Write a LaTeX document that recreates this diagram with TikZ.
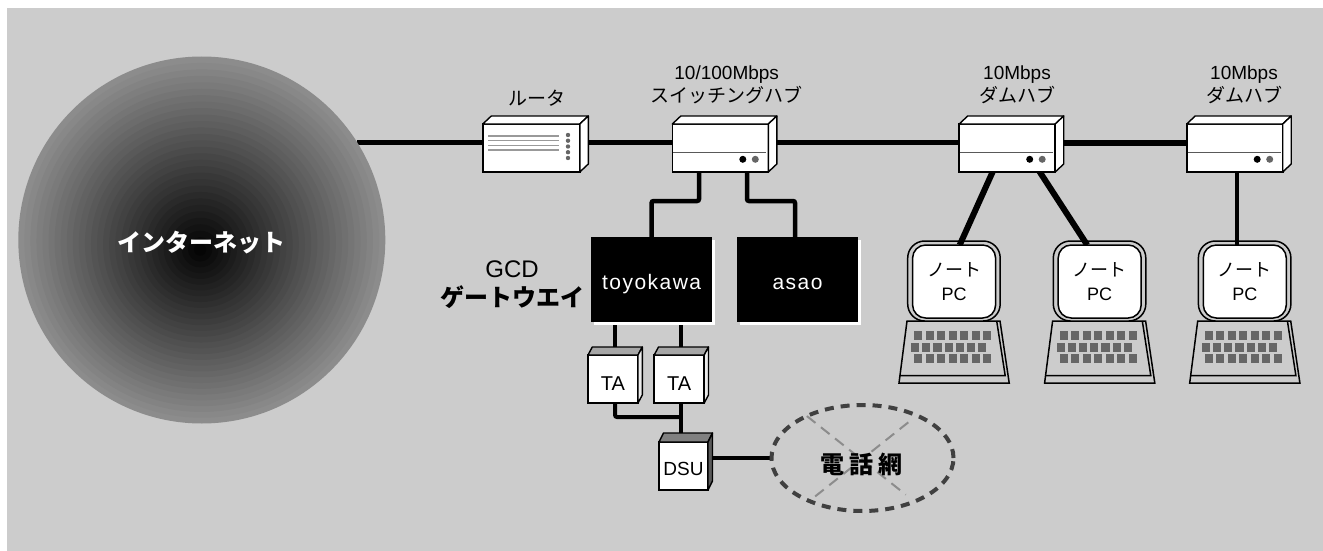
\documentclass[tikz,border=0pt]{standalone}
\usepackage{fontspec}
\setmainfont{Liberation Sans}
\newfontfamily\jpfont{Noto Sans CJK JP}
\newfontfamily\hostfont[LetterSpace=7]{Liberation Sans}
\usetikzlibrary{shapes.geometric, calc, backgrounds, shadows}
\definecolor{panelgray}{HTML}{CCCCCC}
\definecolor{keygray}{HTML}{666666}
\tikzset{
  hubfront/.style={
    draw, fill=white, line width=1.6pt, minimum width=96pt, minimum height=48pt,
    inner sep=0pt, outer sep=0pt
  },
  tafront/.style={
    hubfront, minimum width=50pt, minimum height=48pt,
    text height=22pt, text depth=0pt, font=\fontsize{20}{24}\selectfont
  },
  dsufront/.style={
    hubfront, minimum width=49pt, minimum height=48pt,
    text height=18pt, text depth=0pt, font=\fontsize{19}{23}\selectfont
  },
  hostbox/.style={
    fill=black, minimum width=121pt, minimum height=85pt, inner sep=0pt, outer sep=0pt,
    text=white, text height=24pt, text depth=3pt, font=\fontsize{21}{25}\hostfont,
    copy shadow={shadow xshift=3pt, shadow yshift=-3pt, fill=white, draw=none}
  },
  devlabel/.style={
    align=center, inner sep=0pt, font=\fontsize{19}{23}\selectfont
  },
  pcscreen/.style={
    draw, fill=white, line width=1.5pt, rounded corners=13pt, minimum width=83pt,
    minimum height=73pt, inner sep=0pt, outer sep=0pt, align=center,
    font=\fontsize{18}{24}\selectfont
  },
  netline/.style={line width=4.5pt, rounded corners=2pt},
  shell/.style={draw, line width=1.4pt, line join=round},
}
\newcommand{\jp}[1]{{\jpfont #1}}
% top and side faces of a box
\newcommand{\boxshell}[5]{
  \draw[shell, fill=#4] (#1.north west) -- ++(#2,-#3)
    -- ([shift={(#2,-#3)}]#1.north east) -- (#1.north east) -- cycle;
  \draw[shell, fill=#5] (#1.north east) -- ([shift={(#2,-#3)}]#1.north east)
    -- ([shift={(#2,-#3)}]#1.south east) -- (#1.south east) -- cycle;
}
\newcommand{\hubface}[1]{
  \boxshell{#1}{8.5}{8}{white}{white}
  \draw[line width=1pt, color=black!65] ([xshift=1pt,yshift=-4pt]#1.west) -- ([xshift=-2pt,yshift=-4pt]#1.east);
  \fill[black] ([shift={(-25.5,11.3)}]#1.east) circle (3.5pt);
  \fill[keygray] ([shift={(-13,11.3)}]#1.east) circle (3.5pt);
}
\newcommand{\notepc}[2]{
  \begin{scope}[shift={(#2,241)}]
    \begin{scope}[on background layer]
      \draw[line width=1.5pt, fill=panelgray] (-0.7,80) -- (92.3,80) -- (101.5,142) -- (-8.7,142) -- cycle;
      \draw[line width=1.5pt] (-8,134.7) -- (97.5,134.7) -- (89,80);
      \draw[line width=1.5pt, fill=panelgray, rounded corners=17pt] (0,0) rectangle (92.5,80);
    \end{scope}
    \node[pcscreen] (#1) at (46.4,40.5) {\jp{ノート}\\PC};
    \foreach \k in {0,...,6} {
      \fill[keygray] (6.3+\k*11.5,90) rectangle ++(8.2,9);
      \fill[keygray] (3.3+\k*11.2,101.5) rectangle ++(8.2,9);
      \fill[keygray] (6.3+\k*11.5,113) rectangle ++(8.2,9);
    }
  \end{scope}
}
\begin{document}
\begin{tikzpicture}[x=1pt, y=-1pt]
  \useasboundingbox (0,0) rectangle (1323,551);
  \begin{scope}[on background layer]
    \fill[panelgray] (7,8) rectangle (1323,551);
  \end{scope}

  % --- Internet ---
  \foreach \k in {30,...,1} {
    \pgfmathsetmacro\bandpct{100-55*\k/30}
    \fill[black!\bandpct!white] (200+1.8*\k/30,250-10*\k/30) circle ({183.5*\k/30*1pt});
  }
  \node[circle, minimum size=367pt, inner sep=0pt, outer sep=0pt, text=white,
    text height=26pt, text depth=3pt,
    font=\fontsize{24}{28}\jpfont\bfseries] (internet) at (201.8,240) {インターネット};
  \coordinate (trunk) at (internet.32.5);

  % --- Router and hubs ---
  \node[hubfront, minimum width=97pt] (router) at (531.3,148) {};
  \boxshell{router}{8.5}{8}{white}{white}
  \foreach \ly in {136,140.7,145.4,150} {
    \draw[line width=1.5pt, color=black!40] (488,\ly) -- (559,\ly);
  }
  \foreach \ly in {135,140.7,146.5,152.2,158} {
    \fill[keygray] (568,\ly) circle (2.2pt);
  }
  \node[hubfront] (hubA) at (720.3,148) {};
  \hubface{hubA}
  \node[hubfront] (hubB) at (1007.2,148) {};
  \hubface{hubB}
  \node[hubfront] (hubC) at (1234.7,148) {};
  \hubface{hubC}

  \node[devlabel] (routerlabel) at (536.7,98) {\jp{ルータ}};
  \node[devlabel] (hubAlabel) at (726.7,84.5) {10/100Mbps\\\jp{スイッチングハブ}};
  \node[devlabel] (hubBlabel) at (1017,84.5) {10Mbps\\\jp{ダムハブ}};
  \node[devlabel] (hubClabel) at (1244,84.5) {10Mbps\\\jp{ダムハブ}};

  % --- Gateways ---
  \node[hostbox] (toyokawa) at (651.6,279.4) {toyokawa};
  \node[hostbox] (asao) at (797.5,279.4) {asao};
  \node[devlabel, font=\fontsize{24}{29}\selectfont] (gcdlabel) at (512,284.5)
    {GCD\\{\jpfont\bfseries ゲートウエイ}};

  % --- TA and DSU ---
  \node[tafront] (taA) at (613,379) {TA};
  \boxshell{taA}{4.3}{8}{black!35}{black!8}
  \node[tafront] (taB) at (679.2,379) {TA};
  \boxshell{taB}{4.3}{8}{black!35}{black!8}
  \node[dsufront] (dsu) at (683.5,466) {DSU};
  \boxshell{dsu}{4.5}{9}{black!50}{black!65}

  % --- Phone network ---
  \node[ellipse, draw=black!75, line width=4pt, dash pattern=on 9pt off 7pt,
    minimum width=182pt, minimum height=106pt, inner sep=0pt, outer sep=0pt]
    (phonenet) at (862.5,458) {};
  \draw[line width=2pt, color=black!45, dash pattern=on 11pt off 7pt, shorten >=11pt]
    (phonenet.143) -- (phonenet.-40);
  \draw[line width=2pt, color=black!45, dash pattern=on 11pt off 7pt, shorten <=11pt, shorten >=4pt]
    (phonenet.38) -- (phonenet.219);
  \node[font=\fontsize{24}{28}\jpfont\bfseries] (phonelabel) at (861.7,464)
    {電\hspace{5pt}話\hspace{5pt}網};

  % --- Note PCs ---
  \notepc{pcA}{907.7}
  \notepc{pcB}{1053.3}
  \notepc{pcC}{1198.4}

  % --- Connectors ---
  \begin{scope}[on background layer]
    \draw[line width=5pt] (trunk) -- (router.center |- trunk);
    \draw[line width=5pt] (router.center |- trunk) -- (hubA.center |- trunk);
    \draw[line width=5pt] (hubA.center |- trunk) -- (hubB.center |- trunk);
    \draw[line width=6pt] (hubB.center |- trunk) -- (hubC.center |- trunk);
    \draw[netline] ([xshift=-21.3pt]hubA.center) -- ([xshift=-21.3pt,yshift=-29pt]hubA.south)
      -| (toyokawa.center);
    \draw[netline] ([xshift=26.7pt]hubA.center) -- ([xshift=26.7pt,yshift=-29pt]hubA.south)
      -| ([xshift=-2.5pt]asao.center);
    \draw[line width=6pt] ([xshift=-3.8pt]hubB.center) -- ([xshift=5.6pt]pcA.north);
    \draw[line width=6pt] ([xshift=17pt]hubB.center) -- ([xshift=-12.5pt]pcB.north);
    \draw[line width=4.5pt] ([xshift=2.3pt]hubC.center) -- ([xshift=2.3pt]hubC.center |- pcC.center);
    \draw[line width=4pt] ([xshift=2pt]taA.center) -- ([xshift=2pt]taA.center |- toyokawa.center);
    \draw[line width=4pt] ([xshift=2pt]taB.center) -- ([xshift=2pt]taB.center |- toyokawa.center);
    \draw[line width=4pt, rounded corners=2pt] ([xshift=2pt]taA.south) -- ([xshift=2pt,yshift=-14pt]taA.south)
      -- ([xshift=2pt,yshift=-14pt]taB.south);
    \draw[line width=4pt] ([xshift=2pt]taB.south) -- ([xshift=2pt]taB.center |- dsu.center);
    \draw[line width=4pt] (dsu.center |- phonenet.west) -- (phonenet.west);
  \end{scope}
\end{tikzpicture}
\end{document}
